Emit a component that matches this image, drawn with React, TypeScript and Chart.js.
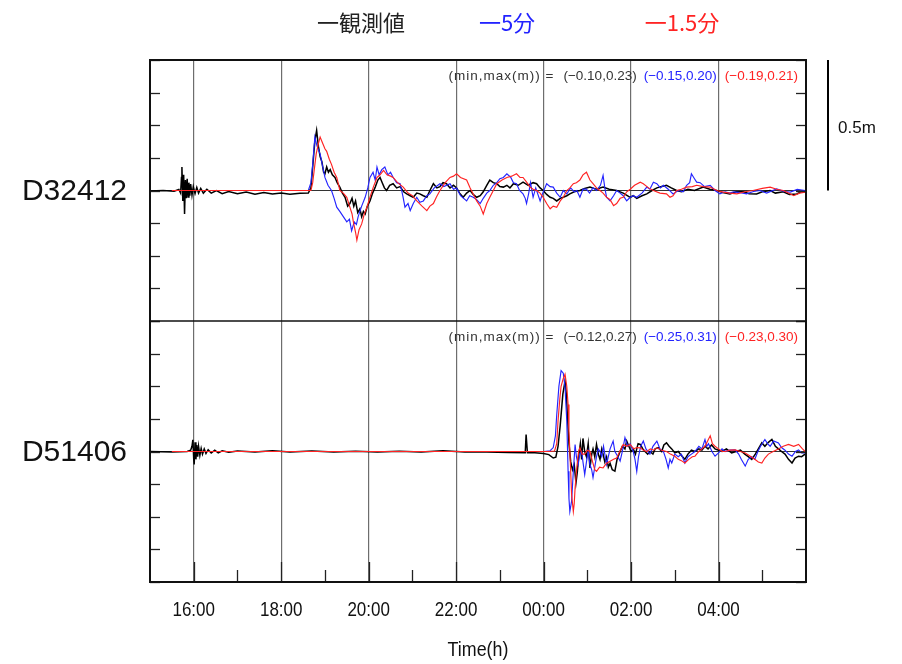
import React, { useEffect, useRef } from 'react';
import { Chart, registerables } from 'chart.js';

Chart.register(...registerables);

// ---- axis / label data ----
const xMin = 15;
const xMax = 30;
const hourTicks = [16, 18, 20, 22, 24, 26, 28];
const hourLabels = ['16:00', '18:00', '20:00', '22:00', '00:00', '02:00', '04:00'];
const hourMarks = [16, 17, 18, 19, 20, 21, 22, 23, 24, 25, 26, 27, 28, 29];
const levelMin = -0.5;
const levelMax = 0.5;
const levelStep = 0.125;
const scaleBarMeters = 0.5;
const scaleBarLabel = '0.5m';
const axisTitle = 'Time(h)';
const stationNames = ['D32412', 'D51406'];
const legendTexts = ['一観測値', '一5分', '一1.5分'];
const rangeCaption = '(min,max(m)) =';
const topRanges = ['(−0.10,0.23)', '(−0.15,0.20)', '(−0.19,0.21)'];
const botRanges = ['(−0.12,0.27)', '(−0.25,0.31)', '(−0.23,0.30)'];

const colObs = '#000000';
const colBlue = 'rgb(35,35,255)';
const colRed = 'rgb(255,35,35)';

// ---- series: [hour, metres] ----
const topObs: [number, number][] = [[15.00,-0.002],[15.30,0.0],[15.55,-0.003],[15.66,0.004],[15.70,-0.01],[15.72,0.05],[15.73,0.09],[15.75,-0.04],[15.77,0.06],[15.79,-0.09],[15.81,0.04],[15.83,-0.03],[15.85,0.045],[15.87,-0.025],[15.89,0.03],[15.91,-0.02],[15.93,0.025],[15.96,-0.018],[15.99,0.015],[16.03,-0.012],[16.07,0.012],[16.11,-0.01],[16.16,0.008],[16.22,-0.01],[16.30,0.005],[16.40,-0.01],[16.52,0.0],[16.65,-0.012],[16.80,-0.004],[17.00,-0.012],[17.20,-0.006],[17.40,-0.014],[17.60,-0.008],[17.80,-0.013],[18.00,-0.01],[18.20,-0.014],[18.43,-0.011],[18.62,-0.01],[18.68,0.01],[18.72,0.09],[18.77,0.19],[18.81,0.23],[18.85,0.17],[18.89,0.13],[18.93,0.11],[18.97,0.07],[19.00,0.064],[19.04,0.09],[19.08,0.07],[19.12,0.08],[19.17,0.06],[19.23,0.05],[19.28,0.03],[19.34,0.013],[19.40,-0.01],[19.46,-0.026],[19.52,-0.06],[19.57,-0.05],[19.62,-0.03],[19.66,-0.06],[19.70,-0.04],[19.75,-0.085],[19.80,-0.07],[19.84,-0.10],[19.88,-0.08],[19.92,-0.09],[19.97,-0.06],[20.03,-0.04],[20.09,-0.01],[20.15,0.013],[20.21,0.04],[20.26,0.05],[20.31,0.03],[20.36,0.01],[20.41,0.0],[20.48,0.02],[20.56,0.026],[20.64,0.01],[20.72,0.015],[20.80,-0.005],[20.87,-0.013],[20.95,-0.02],[21.02,-0.026],[21.10,-0.01],[21.17,-0.013],[21.25,-0.02],[21.33,-0.026],[21.40,0.0],[21.48,0.026],[21.56,0.01],[21.63,0.015],[21.70,0.03],[21.78,0.026],[21.86,0.01],[21.94,0.02],[22.01,0.01],[22.08,-0.01],[22.16,-0.026],[22.24,-0.01],[22.32,0.0],[22.39,-0.015],[22.47,-0.026],[22.55,-0.02],[22.62,-0.005],[22.70,0.02],[22.77,0.04],[22.85,0.03],[22.93,0.026],[23.00,0.015],[23.08,0.013],[23.16,0.02],[23.23,0.01],[23.31,0.026],[23.42,0.02],[23.53,0.032],[23.65,0.02],[23.76,0.03],[23.84,0.026],[23.92,0.01],[23.99,0.0],[24.07,-0.015],[24.15,-0.026],[24.22,-0.03],[24.30,-0.04],[24.38,-0.03],[24.45,-0.026],[24.53,-0.02],[24.60,-0.013],[24.70,-0.005],[24.83,0.0],[24.94,0.008],[25.06,0.013],[25.20,0.005],[25.36,0.013],[25.50,0.005],[25.67,0.0],[25.82,-0.01],[25.98,-0.026],[26.05,-0.02],[26.13,-0.03],[26.25,-0.02],[26.36,-0.013],[26.48,0.0],[26.59,0.01],[26.70,0.015],[26.81,0.02],[26.92,0.01],[27.04,0.0],[27.15,-0.005],[27.30,0.005],[27.45,0.0],[27.65,0.013],[27.80,0.005],[27.96,0.0],[28.10,-0.008],[28.26,-0.013],[28.40,-0.005],[28.57,-0.005],[28.70,-0.012],[28.87,-0.013],[29.00,-0.005],[29.18,0.0],[29.30,-0.01],[29.48,-0.005],[29.62,-0.015],[29.79,-0.013],[29.90,-0.004],[29.98,-0.006]];

const topBlue: [number, number][] = [[15.50,0],[18.40,0],[18.62,0.0],[18.68,0.03],[18.72,0.10],[18.77,0.205],[18.82,0.17],[18.89,0.14],[18.95,0.09],[19.00,0.05],[19.07,0.02],[19.15,0.0],[19.21,-0.03],[19.27,-0.064],[19.34,-0.08],[19.42,-0.10],[19.50,-0.12],[19.56,-0.11],[19.61,-0.154],[19.67,-0.12],[19.72,-0.13],[19.76,-0.10],[19.84,-0.06],[19.92,-0.026],[19.98,0.01],[20.03,0.05],[20.10,0.07],[20.15,0.04],[20.19,0.09],[20.24,0.06],[20.30,0.08],[20.37,0.09],[20.44,0.06],[20.50,0.07],[20.56,0.05],[20.64,0.03],[20.72,0.026],[20.78,-0.02],[20.83,-0.064],[20.90,-0.05],[20.95,-0.077],[21.02,-0.05],[21.10,-0.026],[21.17,-0.045],[21.25,-0.04],[21.33,-0.02],[21.40,-0.013],[21.50,0.01],[21.63,0.026],[21.72,0.015],[21.86,0.026],[21.94,0.005],[22.01,0.01],[22.10,-0.02],[22.24,-0.04],[22.31,-0.02],[22.39,-0.026],[22.47,-0.035],[22.55,-0.05],[22.62,-0.03],[22.70,-0.01],[22.77,0.0],[22.85,0.02],[22.93,0.03],[23.00,0.045],[23.08,0.05],[23.16,0.064],[23.25,0.05],[23.31,0.03],[23.38,0.026],[23.45,0.0],[23.53,-0.013],[23.58,-0.03],[23.61,-0.05],[23.66,-0.01],[23.70,0.03],[23.76,-0.026],[23.82,0.01],[23.92,-0.04],[23.98,-0.01],[24.07,0.026],[24.15,0.015],[24.22,0.013],[24.30,-0.01],[24.38,-0.026],[24.45,0.0],[24.53,-0.013],[24.62,0.01],[24.70,-0.005],[24.76,0.0],[24.83,-0.026],[24.90,0.005],[24.98,0.005],[25.05,-0.01],[25.13,0.01],[25.21,0.0],[25.30,0.02],[25.36,0.058],[25.40,0.01],[25.44,-0.026],[25.52,-0.04],[25.60,-0.02],[25.67,0.0],[25.75,-0.01],[25.82,-0.02],[25.90,-0.04],[25.98,-0.026],[26.05,-0.02],[26.13,-0.026],[26.25,-0.01],[26.36,0.013],[26.43,0.005],[26.51,0.032],[26.59,0.026],[26.67,0.01],[26.74,0.02],[26.85,0.005],[26.96,-0.013],[27.08,0.0],[27.19,-0.005],[27.27,0.02],[27.34,0.03],[27.38,0.064],[27.45,0.045],[27.50,0.032],[27.58,0.03],[27.68,0.015],[27.81,0.02],[27.92,0.0],[28.03,-0.013],[28.15,-0.005],[28.26,-0.01],[28.34,-0.005],[28.50,-0.008],[28.64,-0.013],[28.80,-0.004],[28.95,0.0],[29.10,-0.01],[29.33,0.006],[29.50,-0.004],[29.64,-0.006],[29.80,0.004],[29.98,0.0]];

const topRed: [number, number][] = [[15.50,0],[18.55,0],[18.68,0.0],[18.72,0.03],[18.80,0.14],[18.85,0.18],[18.89,0.205],[18.95,0.18],[19.00,0.16],[19.04,0.15],[19.10,0.12],[19.15,0.10],[19.21,0.07],[19.27,0.05],[19.30,0.03],[19.34,0.0],[19.42,-0.01],[19.50,-0.026],[19.57,-0.064],[19.62,-0.09],[19.65,-0.12],[19.70,-0.16],[19.73,-0.19],[19.78,-0.15],[19.84,-0.128],[19.90,-0.09],[19.96,-0.064],[20.03,-0.026],[20.10,0.01],[20.19,0.05],[20.26,0.06],[20.34,0.077],[20.42,0.06],[20.50,0.055],[20.56,0.05],[20.66,0.03],[20.79,0.013],[20.90,-0.01],[21.00,-0.02],[21.10,-0.04],[21.22,-0.06],[21.33,-0.077],[21.40,-0.06],[21.48,-0.05],[21.55,-0.025],[21.63,0.0],[21.75,0.03],[21.86,0.05],[21.94,0.055],[22.01,0.064],[22.10,0.05],[22.24,0.04],[22.32,0.01],[22.39,-0.013],[22.47,-0.04],[22.55,-0.06],[22.62,-0.09],[22.70,-0.05],[22.77,-0.026],[22.85,0.0],[22.93,0.026],[23.05,0.04],[23.16,0.05],[23.27,0.055],[23.38,0.064],[23.46,0.05],[23.53,0.05],[23.62,0.03],[23.69,0.013],[23.76,0.005],[23.84,0.0],[23.92,-0.01],[23.99,-0.026],[24.07,-0.05],[24.15,-0.07],[24.22,-0.06],[24.30,-0.064],[24.38,-0.04],[24.45,-0.026],[24.53,0.0],[24.60,0.01],[24.68,0.026],[24.75,0.03],[24.83,0.04],[24.90,0.06],[24.98,0.07],[25.06,0.04],[25.13,0.026],[25.21,0.01],[25.29,0.0],[25.36,-0.01],[25.44,-0.026],[25.52,-0.035],[25.60,-0.058],[25.67,-0.05],[25.75,-0.03],[25.82,-0.026],[25.90,-0.005],[25.98,0.005],[26.08,0.02],[26.21,0.032],[26.28,0.026],[26.40,0.01],[26.51,0.0],[26.66,-0.01],[26.81,-0.013],[26.89,-0.026],[26.96,-0.02],[27.04,0.0],[27.15,0.005],[27.27,0.013],[27.40,0.015],[27.50,0.02],[27.65,0.015],[27.81,0.013],[27.96,0.0],[28.11,-0.006],[28.26,-0.01],[28.42,-0.013],[28.60,-0.005],[28.79,0.0],[29.00,0.008],[29.18,0.013],[29.33,0.005],[29.48,0.0],[29.60,-0.01],[29.72,-0.02],[29.85,-0.01],[29.98,-0.006]];

const botObs: [number, number][] = [[15.00,0.0],[15.50,-0.002],[15.85,0.0],[15.93,0.005],[15.96,0.02],[15.98,0.045],[16.00,-0.03],[16.01,-0.05],[16.03,0.035],[16.05,-0.03],[16.07,0.025],[16.09,-0.02],[16.11,0.02],[16.14,-0.015],[16.17,0.012],[16.20,-0.01],[16.24,0.01],[16.28,-0.008],[16.33,0.007],[16.40,-0.006],[16.48,0.005],[16.56,-0.005],[16.65,0.003],[16.80,-0.003],[17.00,0.002],[17.40,-0.002],[17.80,0.003],[18.20,-0.002],[18.70,0.002],[19.20,-0.002],[19.70,0.001],[20.20,-0.002],[20.70,0.001],[21.20,-0.002],[21.70,0.003],[22.20,-0.002],[22.70,-0.002],[23.20,-0.004],[23.58,-0.005],[23.60,0.065],[23.62,0.065],[23.63,-0.005],[23.80,-0.005],[24.00,-0.008],[24.12,-0.012],[24.22,-0.025],[24.28,-0.022],[24.33,0.02],[24.38,0.10],[24.44,0.22],[24.49,0.27],[24.52,0.22],[24.55,0.12],[24.58,0.03],[24.62,-0.04],[24.66,-0.07],[24.70,-0.05],[24.74,-0.12],[24.77,-0.08],[24.80,-0.02],[24.84,0.03],[24.87,-0.03],[24.90,0.05],[24.94,0.0],[24.98,-0.02],[25.02,0.03],[25.06,-0.063],[25.10,-0.01],[25.13,0.01],[25.17,-0.02],[25.21,0.027],[25.25,-0.01],[25.29,-0.03],[25.33,0.01],[25.36,-0.01],[25.40,-0.04],[25.44,-0.02],[25.48,-0.06],[25.52,-0.045],[25.57,-0.07],[25.63,-0.075],[25.68,-0.03],[25.75,0.0],[25.80,0.02],[25.86,0.01],[25.90,0.04],[25.95,0.02],[26.00,0.0],[26.05,0.01],[26.10,-0.01],[26.16,0.03],[26.21,0.027],[26.27,0.01],[26.32,0.0],[26.38,-0.01],[26.43,0.0],[26.50,-0.01],[26.55,0.01],[26.62,0.015],[26.70,0.0],[26.75,0.025],[26.81,0.033],[26.87,0.02],[26.93,0.01],[27.00,-0.005],[27.08,0.0],[27.15,-0.015],[27.23,-0.03],[27.30,-0.01],[27.38,0.005],[27.46,0.0],[27.55,0.01],[27.62,0.005],[27.69,0.02],[27.76,0.01],[27.84,0.025],[27.92,0.01],[28.00,0.005],[28.08,0.0],[28.18,0.01],[28.30,-0.005],[28.40,0.0],[28.50,0.005],[28.60,-0.01],[28.68,-0.02],[28.76,-0.03],[28.84,-0.01],[28.91,0.01],[28.99,0.033],[29.06,0.02],[29.14,0.035],[29.22,0.046],[29.30,0.02],[29.37,0.01],[29.44,0.0],[29.52,-0.01],[29.60,-0.03],[29.68,-0.044],[29.75,-0.025],[29.83,-0.018],[29.90,-0.02],[29.98,-0.01]];

const botBlue: [number, number][] = [[15.50,0],[24.00,0.0],[24.15,0.003],[24.22,0.015],[24.27,0.06],[24.30,0.14],[24.35,0.25],[24.40,0.31],[24.45,0.30],[24.49,0.245],[24.53,0.117],[24.56,-0.076],[24.58,-0.18],[24.60,-0.23],[24.64,-0.19],[24.68,-0.076],[24.72,0.027],[24.75,-0.02],[24.79,-0.05],[24.83,-0.01],[24.87,0.0],[24.90,-0.04],[24.94,-0.088],[24.98,-0.04],[25.02,0.0],[25.06,-0.05],[25.10,-0.07],[25.13,-0.10],[25.17,-0.06],[25.21,-0.02],[25.25,0.01],[25.29,0.0],[25.33,-0.02],[25.37,0.02],[25.44,-0.05],[25.48,-0.02],[25.52,0.01],[25.59,0.04],[25.63,0.0],[25.70,-0.02],[25.75,-0.037],[25.80,0.0],[25.86,0.053],[25.92,0.02],[25.98,0.03],[26.05,0.0],[26.09,-0.03],[26.13,-0.076],[26.17,-0.02],[26.22,0.02],[26.28,0.04],[26.34,0.01],[26.43,-0.01],[26.50,0.02],[26.59,0.04],[26.66,0.01],[26.74,0.0],[26.80,-0.03],[26.85,-0.063],[26.89,-0.03],[26.93,-0.044],[27.00,-0.01],[27.08,-0.02],[27.15,-0.01],[27.23,-0.044],[27.30,-0.02],[27.38,-0.01],[27.46,0.0],[27.55,0.02],[27.62,0.01],[27.69,0.046],[27.73,0.02],[27.77,0.03],[27.85,0.0],[27.92,-0.018],[28.00,-0.005],[28.08,0.01],[28.15,0.0],[28.25,0.005],[28.38,0.006],[28.46,-0.01],[28.52,-0.03],[28.61,-0.056],[28.68,-0.03],[28.76,-0.02],[28.83,-0.03],[28.90,0.0],[28.96,0.02],[29.06,0.046],[29.12,0.03],[29.18,0.02],[29.26,0.04],[29.37,0.033],[29.44,0.015],[29.52,0.005],[29.60,-0.01],[29.68,-0.018],[29.76,0.0],[29.83,0.006],[29.90,-0.005],[29.98,-0.005]];

const botRed: [number, number][] = [[15.50,0],[24.10,0.0],[24.25,0.002],[24.30,0.03],[24.33,0.117],[24.37,0.20],[24.40,0.25],[24.45,0.28],[24.49,0.296],[24.53,0.25],[24.56,0.18],[24.58,0.08],[24.60,0.0],[24.62,-0.08],[24.64,-0.165],[24.68,-0.23],[24.70,-0.2],[24.72,-0.14],[24.76,-0.06],[24.80,0.0],[24.83,0.014],[24.88,-0.01],[24.94,-0.01],[25.00,0.005],[25.06,0.0],[25.12,-0.04],[25.17,-0.07],[25.21,-0.076],[25.28,-0.06],[25.36,-0.063],[25.44,-0.045],[25.52,-0.037],[25.60,-0.03],[25.67,-0.025],[25.74,0.0],[25.82,0.027],[25.90,0.02],[25.98,0.027],[26.06,0.01],[26.13,0.015],[26.21,0.014],[26.28,0.005],[26.36,0.0],[26.44,0.01],[26.52,0.005],[26.59,0.014],[26.70,0.005],[26.81,0.0],[26.90,-0.01],[27.00,-0.018],[27.08,-0.03],[27.15,-0.035],[27.23,-0.044],[27.32,-0.03],[27.40,-0.02],[27.46,-0.018],[27.55,0.0],[27.62,0.01],[27.69,0.02],[27.75,0.04],[27.81,0.06],[27.86,0.03],[27.92,0.02],[28.00,0.01],[28.08,0.0],[28.15,0.0],[28.26,0.005],[28.38,0.006],[28.50,0.0],[28.61,-0.006],[28.70,-0.015],[28.83,-0.03],[28.91,-0.04],[28.99,-0.044],[29.06,-0.025],[29.14,-0.01],[29.25,0.0],[29.37,0.01],[29.48,0.02],[29.60,0.027],[29.72,0.02],[29.83,0.027],[29.92,0.01],[29.98,0.0]];

const toXY = (pts: [number, number][]) => pts.map(([x, y]) => ({ x, y }));

const SANS = '"Liberation Sans", Arial, Helvetica, sans-serif';
const CJK = '"Noto Sans CJK JP", "Noto Sans CJK SC", sans-serif';

const overlayPlugin = {
  id: 'overlay',
  afterDraw(chart: any) {
    const ctx = chart.ctx as CanvasRenderingContext2D;
    const { left, right, top, bottom } = chart.chartArea;
    const xs = chart.scales.x;
    const panels = [chart.scales.yTop, chart.scales.yBot];
    ctx.save();
    const seg = (x1: number, y1: number, x2: number, y2: number) => {
      ctx.beginPath();
      ctx.moveTo(x1, y1);
      ctx.lineTo(x2, y2);
      ctx.stroke();
    };
    // inward tick marks on the level axes
    ctx.strokeStyle = '#222';
    ctx.lineWidth = 1.3;
    panels.forEach((sc: any) => {
      sc.ticks.forEach((t: any) => {
        const py = Math.round(sc.getPixelForValue(t.value)) + 0.5;
        seg(left, py, left + 10, py);
        seg(right - 10, py, right, py);
      });
    });
    // inward hour marks on the time axis
    hourMarks.forEach((h) => {
      const px = Math.round(xs.getPixelForValue(h)) + 0.5;
      seg(px, bottom, px, bottom - (h % 2 === 0 ? 20 : 12));
    });
    // divider between panels
    ctx.strokeStyle = '#111';
    ctx.lineWidth = 1.5;
    const mid = panels[0].bottom;
    seg(left, mid, right, mid);
    // frame
    ctx.lineWidth = 2;
    ctx.strokeRect(left, top, right - left, bottom - top);

    // time tick labels and axis title (slightly condensed sans)
    ctx.fillStyle = '#111';
    ctx.textAlign = 'center';
    ctx.textBaseline = 'middle';
    ctx.font = `20px ${SANS}`;
    hourTicks.forEach((h, i) => {
      const px = xs.getPixelForValue(h);
      ctx.save();
      ctx.translate(px, bottom + 28);
      ctx.scale(0.85, 1);
      ctx.fillText(hourLabels[i], 0, 0);
      ctx.restore();
    });
    ctx.font = `21px ${SANS}`;
    ctx.save();
    ctx.translate((left + right) / 2, bottom + 68);
    ctx.scale(0.85, 1);
    ctx.fillText(axisTitle, 0, 0);
    ctx.restore();

    // station labels
    ctx.fillStyle = '#111';
    ctx.font = `30px ${SANS}`;
    ctx.textAlign = 'right';
    ctx.textBaseline = 'middle';
    panels.forEach((sc: any, i: number) => {
      ctx.fillText(stationNames[i], left - 23, sc.getPixelForValue(0) + 1);
    });

    // min/max annotations
    ctx.font = `13.5px ${SANS}`;
    ctx.textBaseline = 'middle';
    ctx.textAlign = 'left';
    [topRanges, botRanges].forEach((rng, i) => {
      const sc = panels[i];
      const y = sc.top + 16;
      const parts = [
        { t: rangeCaption, c: '#333', gap: 9, ls: 1 },
        { t: rng[0], c: '#333', gap: 7, ls: 0 },
        { t: rng[1], c: colBlue, gap: 8, ls: 0 },
        { t: rng[2], c: colRed, gap: 0, ls: 0 },
      ];
      let x = right - 8;
      for (let k = parts.length - 1; k >= 0; k--) {
        (ctx as any).letterSpacing = `${parts[k].ls}px`;
        const w = ctx.measureText(parts[k].t).width;
        x -= w;
        ctx.fillStyle = parts[k].c;
        ctx.fillText(parts[k].t, x, y);
        if (k > 0) x -= parts[k - 1].gap;
      }
      (ctx as any).letterSpacing = '0px';
    });

    // scale bar
    const sTop = panels[0];
    const y0 = sTop.getPixelForValue(0);
    const y1 = sTop.getPixelForValue(scaleBarMeters);
    ctx.strokeStyle = '#000';
    ctx.lineWidth = 2;
    seg(right + 22, y1, right + 22, y0);
    ctx.fillStyle = '#111';
    ctx.font = `17px ${SANS}`;
    ctx.textAlign = 'left';
    ctx.fillText(scaleBarLabel, right + 32, (y0 + y1) / 2 + 3);

    // legend
    ctx.font = `22px ${CJK}`;
    ctx.textAlign = 'center';
    ctx.textBaseline = 'middle';
    const legendX = [361, 507, 682];
    const legendC = ['#222', colBlue, colRed];
    legendTexts.forEach((t, i) => {
      ctx.fillStyle = legendC[i];
      ctx.fillText(t, legendX[i], 23);
    });
    ctx.restore();
  },
};

export default function App() {
  const ref = useRef<HTMLCanvasElement | null>(null);
  useEffect(() => {
    if (!ref.current) return;
    const line = (data: [number, number][], color: string, axis: string, w: number, label: string) => ({
      label,
      data: toXY(data),
      borderColor: color,
      backgroundColor: color,
      borderWidth: w,
      yAxisID: axis,
      xAxisID: 'x',
      pointRadius: 0,
      tension: 0,
      fill: false,
    });
    const levelAxis = () => ({
      type: 'linear' as const,
      position: 'left' as const,
      stack: 'panels',
      stackWeight: 1,
      min: levelMin,
      max: levelMax,
      ticks: { display: false, stepSize: levelStep },
      grid: {
        drawTicks: false,
        lineWidth: 1,
        color: (c: any) => (c.tick && Math.abs(c.tick.value) < 1e-9 ? '#333' : 'rgba(0,0,0,0)'),
      },
      border: { display: false },
    });
    // dataset 0 is painted last (on top): red, then blue, then the observed trace underneath
    const chart = new Chart(ref.current, {
      type: 'line',
      data: {
        datasets: [
          line(topRed, colRed, 'yTop', 1.15, '1.5分 D32412'),
          line(topBlue, colBlue, 'yTop', 1.15, '5分 D32412'),
          line(topObs, colObs, 'yTop', 1.5, '観測値 D32412'),
          line(botRed, colRed, 'yBot', 1.15, '1.5分 D51406'),
          line(botBlue, colBlue, 'yBot', 1.15, '5分 D51406'),
          line(botObs, colObs, 'yBot', 1.5, '観測値 D51406'),
        ],
      },
      options: {
        animation: false,
        responsive: false,
        maintainAspectRatio: false,
        layout: { padding: { left: 150, right: 96, top: 60, bottom: 0 } },
        plugins: { legend: { display: false }, tooltip: { enabled: false } },
        scales: {
          x: {
            type: 'linear',
            min: xMin,
            max: xMax,
            afterBuildTicks: (s: any) => {
              s.ticks = hourTicks.map((v) => ({ value: v }));
            },
            afterFit: (s: any) => {
              s.height = 82;
            },
            ticks: { display: false },
            grid: { drawTicks: false, color: 'rgba(60,60,60,0.75)', lineWidth: 1.2 },
            border: { display: false },
            title: { display: false },
          },
          yBot: levelAxis(),
          yTop: levelAxis(),
        },
      },
      plugins: [overlayPlugin],
    } as any);
    return () => chart.destroy();
  }, []);
  return (
    <div style={{ position: 'absolute', left: 0, top: 0, width: 902, height: 664, background: '#fff' }}>
      <canvas ref={ref} width={902} height={664} style={{ display: 'block' }} />
    </div>
  );
}
